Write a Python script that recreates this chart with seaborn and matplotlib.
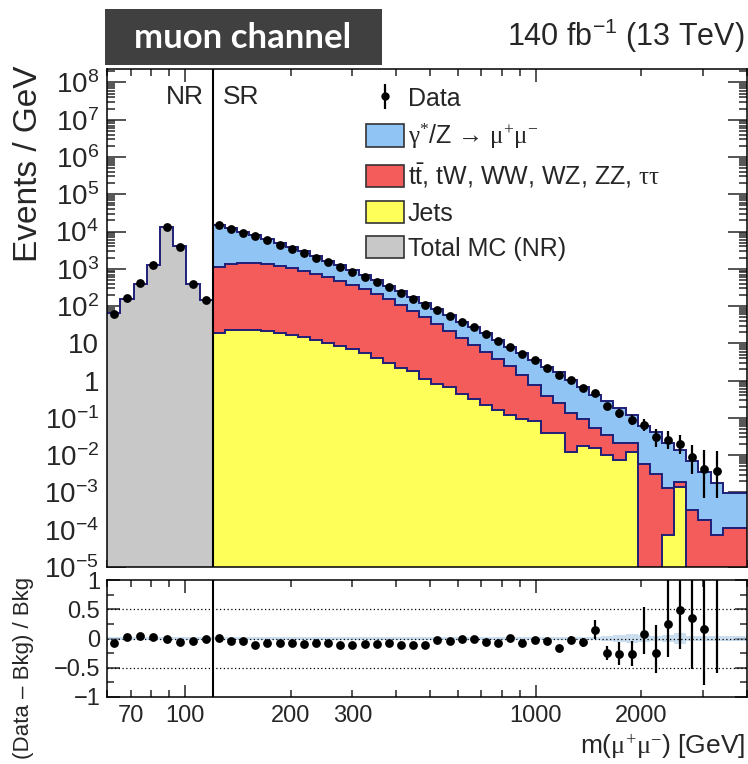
import numpy as np
import pandas as pd
import matplotlib
matplotlib.use('Agg')
import matplotlib.pyplot as plt
import matplotlib.ticker as mticker
from matplotlib.patches import Patch, Rectangle
from matplotlib.lines import Line2D
from matplotlib.legend_handler import HandlerTuple
import seaborn as sns

nan = np.nan

# binning: 8 bins in the normalisation region, 44 in the signal region
nr_edges = np.geomspace(60, 120, 9)
sr_edges = np.geomspace(120, 4000, 45)

# normalisation region (NR)
nr_data = [60, 160, 405, 1260, 12900, 3900, 380, 144]
nr_mc = [65, 155, 390, 1230, 12900, 4170, 400, 145]
nr_err = [0.03, 0.02, 0.01, 0.01, 0.01, 0.01, 0.01, 0.02]
nr_unc = [0.025, 0.025, 0.025, 0.025, 0.025, 0.025, 0.025, 0.025]

# signal region (SR), events / GeV
sr_data = [14800, 12000, 9330, 7410, 5890, 4470, 3470, 2690, 2000, 1510,
           1120, 832, 603, 447, 316, 224, 158, 107, 79.4, 55.0,
           38.0, 26.9, 17.4, 11.7, 8.13, 5.13, 3.55, 2.24, 1.41, 1.02,
           0.646, 0.468, 0.209, 0.132, 0.0891, 0.0661, 0.0309, 0.0263, 0.0200, 0.00912,
           0.00417, 0.00380, nan, nan]
sr_dy = [13530, 11280, 8375, 6885, 5021, 3628, 2743, 2099, 1419, 1027,
         786, 568, 388, 288, 191, 145, 104.4, 70.9, 47.9, 35.7,
         23.9, 17.8, 12.7, 8.8, 5.6, 4.11, 2.86, 1.98, 1.435, 0.908,
         0.600, 0.355, 0.244, 0.160, 0.101, 0.0556, 0.0381, 0.0197, 0.0115, 0.00642,
         0.00341, 0.00167, 0.00084, 0.00084]
sr_top = [1103, 1326, 1423, 1423, 1327, 1183, 1030, 876, 729, 593,
          471, 365, 277, 205, 148, 105, 72.3, 49.0, 32.3, 21.2,
          13.7, 8.80, 5.67, 3.63, 2.33, 1.31, 0.676, 0.340, 0.205, 0.120,
          0.0738, 0.0374, 0.0247, 0.0140, 0.0091, 0.00562, 0.00309, 0.00128, 0.00054, 3.4e-4,
          1.8e-4, 7.2e-5, 1.1e-4, 1.1e-4]
sr_jets = [19.1, 23.4, 22.4, 22.4, 21.9, 19.1, 16.6, 14.5, 12.3, 10.0,
           8.32, 6.92, 5.37, 4.17, 2.95, 2.24, 1.78, 1.12, 0.832, 0.661,
           0.437, 0.316, 0.219, 0.166, 0.120, 0.0955, 0.0832, 0.0398, 0.0398, 0.0123,
           0.0174, 0.0151, 0.0100, 0.00741, 0.0123, 0, 0, 7.24e-5, 1.41e-3, 0,
           0, 0, 0, 0]
# relative data errors (down / up) and MC stat. uncertainty
sr_err_lo = [0.01, 0.01, 0.01, 0.01, 0.01, 0.01, 0.01, 0.01, 0.01, 0.01,
             0.01, 0.01, 0.01, 0.01, 0.01, 0.01, 0.01, 0.01, 0.01, 0.01,
             0.03, 0.03, 0.03, 0.03, 0.03, 0.03, 0.05, 0.05, 0.05, 0.07,
             0.08, 0.13, 0.15, 0.25, 0.27, 0.32, 0.45, 0.45, 0.45, 0.65,
             0.83, 0.81, nan, nan]
sr_err_hi = [0.01, 0.01, 0.01, 0.01, 0.01, 0.01, 0.01, 0.01, 0.01, 0.01,
             0.01, 0.01, 0.01, 0.01, 0.01, 0.01, 0.01, 0.01, 0.01, 0.01,
             0.03, 0.03, 0.03, 0.03, 0.03, 0.03, 0.05, 0.05, 0.05, 0.07,
             0.08, 0.15, 0.17, 0.30, 0.31, 0.42, 0.64, 0.70, 0.75, 1.0,
             2.3, 2.3, nan, nan]
sr_unc = [0.025, 0.025, 0.025, 0.025, 0.025, 0.025, 0.025, 0.025, 0.025, 0.025,
          0.025, 0.025, 0.025, 0.025, 0.025, 0.025, 0.025, 0.025, 0.025, 0.025,
          0.025, 0.025, 0.025, 0.025, 0.025, 0.025, 0.025, 0.025, 0.025, 0.025,
          0.025, 0.03, 0.04, 0.06, 0.07, 0.06, 0.04, 0.06, 0.09, 0.05,
          0.04, 0.04, 0.04, 0.04]

y_ticks = [1e-5, 1e-4, 1e-3, 1e-2, 1e-1, 1, 10, 1e2, 1e3, 1e4, 1e5, 1e6, 1e7, 1e8]
y_labels = ['$10^{-5}$', '$10^{-4}$', '$10^{-3}$', '$10^{-2}$', '$10^{-1}$', '1', '10',
            '$10^{2}$', '$10^{3}$', '$10^{4}$', '$10^{5}$', '$10^{6}$', '$10^{7}$', '$10^{8}$']
x_labelled = [70, 100, 200, 300, 1000, 2000]

c_dy = '#8fc4f4'
c_top = '#f45c5c'
c_jets = '#ffff5a'
c_nr = '#c8c8c8'
c_line = '#1f1f78'

sns.set_theme(style='ticks')
plt.rcParams['font.family'] = ['Liberation Sans', 'DejaVu Sans']
plt.rcParams['mathtext.fontset'] = 'custom'
plt.rcParams['mathtext.rm'] = 'Liberation Serif'
plt.rcParams['mathtext.it'] = 'Liberation Serif:italic'
plt.rcParams['mathtext.sf'] = 'Liberation Sans'
plt.rcParams['mathtext.default'] = 'regular'

nr_data = np.array(nr_data, float)
nr_mc = np.array(nr_mc, float)
sr_data = np.array(sr_data, float)
sr_total = np.array(sr_dy) + np.array(sr_top) + np.array(sr_jets)
sr_redcum = np.array(sr_top) + np.array(sr_jets)
sr_yel = np.array(sr_jets, float)

fig = plt.figure(figsize=(7.48, 7.64), dpi=100)
ax = fig.add_axes([0.1434, 0.2579, 0.8552, 0.6518])
axr = fig.add_axes([0.1434, 0.0877, 0.8552, 0.1531])

base = 1e-9


def hist(a, edges, vals, color):
    v = np.where(np.asarray(vals) > 0, vals, base)
    a.stairs(v, edges, baseline=base, fill=True, color=color, lw=0, zorder=1)
    a.stairs(v, edges, baseline=None, color=c_line, lw=1.4, zorder=2)


hist(ax, nr_edges, nr_mc, c_nr)
hist(ax, sr_edges, sr_total, c_dy)
hist(ax, sr_edges, sr_redcum, c_top)
hist(ax, sr_edges, sr_yel, c_jets)

# data points
centers = np.concatenate([np.sqrt(nr_edges[:-1] * nr_edges[1:]), np.sqrt(sr_edges[:-1] * sr_edges[1:])])
data = np.concatenate([nr_data, sr_data])
bkg = np.concatenate([nr_mc, sr_total])
elo = np.concatenate([nr_err, sr_err_lo])
ehi = np.concatenate([nr_err, sr_err_hi])
df = pd.DataFrame({'m': centers, 'data': data, 'bkg': bkg, 'elo': elo, 'ehi': ehi})
df = df.dropna()
df['ratio'] = (df['data'] - df['bkg']) / df['bkg']

eb = ax.errorbar(df['m'], df['data'], yerr=[df['data'] * df['elo'], df['data'] * df['ehi']],
                 fmt='none', ecolor='black', elinewidth=1.6, capsize=0, zorder=3)
sns.scatterplot(data=df, x='m', y='data', color='black', s=40, edgecolor='black',
                linewidth=0, ax=ax, zorder=4, legend=False)

ax.axvline(120, color='black', lw=1.5, zorder=5)

ax.set_xscale('log')
ax.set_yscale('log')
ax.set_xlim(60, 4000)
ax.set_ylim(1e-5, 2.3e8)
ax.set_xlabel('')
ax.set_ylabel('')

# ratio panel
axr.stairs(np.array(nr_unc), nr_edges, baseline=-np.array(nr_unc), fill=True,
           color='#a9cbe6', alpha=0.6, lw=0)
axr.stairs(np.array(sr_unc), sr_edges, baseline=-np.array(sr_unc), fill=True,
           color='#a9cbe6', alpha=0.6, lw=0)
for yv in (-0.5, 0, 0.5):
    axr.axhline(yv, color='black', ls=(0, (1, 2)), lw=0.9)
axr.errorbar(df['m'], df['ratio'],
             yerr=[df['data'] / df['bkg'] * df['elo'], df['data'] / df['bkg'] * df['ehi']],
             fmt='none', ecolor='black', elinewidth=1.6, capsize=0, zorder=3)
sns.scatterplot(data=df, x='m', y='ratio', color='black', s=40, edgecolor='black',
                linewidth=0, ax=axr, zorder=4, legend=False)
axr.axvline(120, color='black', lw=1.5)
axr.set_xscale('log')
axr.set_xlim(60, 4000)
axr.set_ylim(-1, 1)
axr.set_xlabel('')
axr.set_ylabel('')

# ticks
for a in (ax, axr):
    for s in a.spines.values():
        s.set_linewidth(1.1)
        s.set_color('black')
    a.xaxis.set_major_locator(mticker.FixedLocator([100, 1000]))
    a.xaxis.set_minor_locator(mticker.FixedLocator([60, 70, 80, 90, 200, 300, 400, 500, 600, 700, 800, 900,
                                                    2000, 3000, 4000]))
    a.tick_params(axis='x', which='major', direction='in', length=9, width=1.1, top=True, bottom=True)
    a.tick_params(axis='x', which='minor', direction='in', length=5, width=1.1, top=True, bottom=True)
    a.tick_params(axis='y', which='both', direction='in', left=True, right=True, width=1.1)

ax.yaxis.set_major_locator(mticker.FixedLocator(y_ticks))
ax.yaxis.set_major_formatter(mticker.FixedFormatter(y_labels))
ax.yaxis.set_minor_locator(mticker.LogLocator(base=10, subs=np.arange(2, 10), numticks=100))
ax.yaxis.set_minor_formatter(mticker.NullFormatter())
ax.tick_params(axis='y', which='major', length=14, labelsize=20, pad=6)
ax.tick_params(axis='y', which='minor', length=6)
ax.tick_params(axis='x', which='both', labelbottom=False)

axr.xaxis.set_major_formatter(mticker.FuncFormatter(lambda v, p: '%d' % v if round(v) in x_labelled else ''))
axr.xaxis.set_minor_formatter(mticker.FuncFormatter(lambda v, p: '%d' % v if round(v) in x_labelled else ''))
axr.tick_params(axis='x', which='both', labelsize=17, pad=6)
axr.set_yticks([-1, -0.5, 0, 0.5, 1])
axr.set_yticklabels(['\u22121', '\u22120.5', '0', '0.5', '1'])
axr.yaxis.set_minor_locator(mticker.FixedLocator([-0.75, -0.25, 0.25, 0.75]))
axr.tick_params(axis='y', which='major', length=9, labelsize=17, pad=5)
axr.tick_params(axis='y', which='minor', length=5)

# texts
ax.text(113, 0.944, 'NR', transform=ax.get_xaxis_transform(), ha='right', va='center', fontsize=19)
ax.text(128, 0.944, 'SR', transform=ax.get_xaxis_transform(), ha='left', va='center', fontsize=19)

fig.text(29 / 748, 1 - 66 / 764, 'Events / GeV', rotation=90, ha='center', va='top', fontsize=24)
fig.text(24 / 748, 1 - 577 / 764, '(Data \u2013 Bkg) / Bkg', rotation=90, ha='center', va='top', fontsize=16)
fig.text(745 / 748, 1 - 747 / 764, r'm($\mathrm{\mu^{+}\mu^{-}}$) [GeV]', ha='right', va='center', fontsize=19)
fig.text(745 / 748, 1 - 46 / 764, '140 fb$^{-1}$ (13 TeV)', ha='right', va='baseline', fontsize=22)

fig.patches.append(Rectangle((105 / 748, 1 - 65 / 764), 277 / 748, 56 / 764,
                             transform=fig.transFigure, facecolor='#404040', edgecolor='none'))
fig.text(243 / 748, 1 - 38 / 764, 'muon channel', ha='center', va='center', color='white',
         fontsize=25, fontweight='bold', family=['Lato', 'DejaVu Sans'])

# legend
mk = Line2D([], [], marker='o', color='black', ls='', ms=5)
handles = [(eb, mk),
           Patch(facecolor=c_dy, edgecolor='#333333', lw=1.2),
           Patch(facecolor=c_top, edgecolor='#333333', lw=1.2),
           Patch(facecolor=c_jets, edgecolor='#333333', lw=1.2),
           Patch(facecolor=c_nr, edgecolor='#333333', lw=1.2)]
labels = ['Data',
          r'$\mathrm{\gamma^{*}}$/Z ' + '\u2192' + r' $\mathrm{\mu^{+}\mu^{-}}$',
          r't$\bar{t}$, tW, WW, WZ, ZZ, $\mathrm{\tau\tau}$',
          'Jets',
          'Total MC (NR)']
ax.legend(handles, labels, loc='upper left', bbox_to_anchor=(0.405, 0.965), frameon=False,
          fontsize=18, handlelength=1.5, handleheight=1.0, handletextpad=0.15,
          labelspacing=0.42, borderaxespad=0, borderpad=0,
          handler_map={tuple: HandlerTuple(ndivide=1)})

fig.savefig('out.png', dpi=100)
